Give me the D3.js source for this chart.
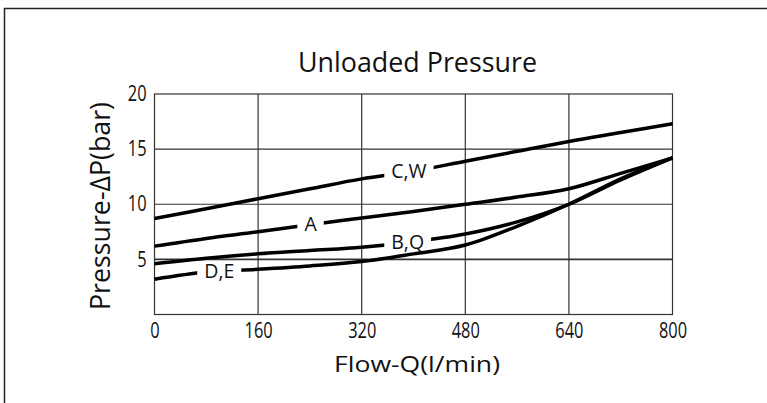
<html>
<head>
<meta charset="utf-8">
<title>Unloaded Pressure</title>
<script src="https://cdn.jsdelivr.net/npm/d3@7/dist/d3.min.js"></script>
<style>
  body { margin: 0; background: #fff; }
  svg text { font-family: "Open Sans", "DejaVu Sans", sans-serif; font-weight: 400; fill: #111; }
</style>
</head>
<body>
<svg width="767" height="403"></svg>
<script>
var flow = [0, 80, 160, 240, 320, 400, 480, 560, 640, 720, 800];

// pressure drop (bar) per curve
var pressureCW = [8.7, 9.6, 10.5, 11.4, 12.3, 13.0, 13.9, 14.8, 15.7, 16.5, 17.3];
var pressureA  = [6.2, 6.9, 7.5, 8.15, 8.75, 9.35, 10.0, 10.65, 11.4, 12.8, 14.2];
var pressureBQ = [4.6, 5.1, 5.5, 5.8, 6.1, 6.6, 7.3, 8.4, 10.0, 12.2, 14.2];
var pressureDE = [3.2, 3.85, 4.1, 4.4, 4.8, 5.5, 6.3, 8.0, 10.0, 12.3, 14.2];

var curveNames = ['C,W', 'A', 'B,Q', 'D,E'];
var labelFlow = [393, 241, 391, 100];

var xTicks = [0, 160, 320, 480, 640, 800];
var yTicks = [5, 10, 15, 20];

var curves = [pressureCW, pressureA, pressureBQ, pressureDE].map(function(p, i) {
    return {
        name: curveNames[i],
        at: labelFlow[i],
        points: flow.map(function(f, j) { return [f, p[j]]; })
    };
});

var svg = d3.select('svg');

// outer frame (only top and left edges fall inside the picture)
svg.append('rect')
    .attr('x', 4.5).attr('y', 8.5)
    .attr('width', 900).attr('height', 600)
    .attr('fill', 'none').attr('stroke', '#222').attr('stroke-width', 1.5);

var x = d3.scaleLinear().domain([0, 800]).range([154.5, 672.5]);
var y = d3.scaleLinear().domain([0, 20]).range([314.5, 94]);

// grid
var grid = svg.append('g').attr('stroke', '#333').attr('stroke-width', 1.2);
grid.selectAll('.vx').data(xTicks.slice(1, -1)).enter().append('line')
    .attr('x1', x).attr('x2', x).attr('y1', y(0)).attr('y2', y(20));
grid.selectAll('.hy').data(yTicks.slice(0, -1)).enter().append('line')
    .attr('y1', y).attr('y2', y).attr('x1', x(0)).attr('x2', x(800))
    .attr('stroke-width', function(d) { return d == 5 ? 1.8 : 1.2; });
grid.append('rect')
    .attr('x', x(0)).attr('y', y(20))
    .attr('width', x(800) - x(0)).attr('height', y(0) - y(20))
    .attr('fill', 'none');

// axes (labels only)
var xAxis = svg.append('g')
    .attr('transform', 'translate(0,' + y(0) + ')')
    .call(d3.axisBottom(x).tickValues(xTicks).tickSize(0).tickPadding(9));
var yAxis = svg.append('g')
    .attr('transform', 'translate(' + x(0) + ',0)')
    .call(d3.axisLeft(y).tickValues(yTicks).tickSize(0).tickPadding(8));
[xAxis, yAxis].forEach(function(a) {
    a.select('.domain').remove();
    a.attr('font-family', null).attr('font-size', 21);
    a.selectAll('text').attr('fill', '#111').each(function() {
        var w = this.getComputedTextLength();
        d3.select(this).attr('textLength', w * 0.78).attr('lengthAdjust', 'spacingAndGlyphs');
    });
});

var line = d3.line()
    .x(function(d) { return x(d[0]); })
    .y(function(d) { return y(d[1]); })
    .curve(d3.curveCatmullRom.alpha(0.5));

function valueAt(pts, f) {
    var i = d3.bisector(function(d) { return d[0]; }).right(pts, f) - 1;
    i = Math.max(0, Math.min(i, pts.length - 2));
    var t = (f - pts[i][0]) / (pts[i + 1][0] - pts[i][0]);
    return pts[i][1] + t * (pts[i + 1][1] - pts[i][1]);
}

var defs = svg.append('defs');
var curveLayer = svg.append('g');
var labelLayer = svg.append('g');

curves.forEach(function(c, i) {
    var lx = x(c.at), ly = y(valueAt(c.points, c.at));

    var label = labelLayer.append('text')
        .attr('x', lx).attr('y', ly)
        .attr('dy', '0.34em')
        .attr('text-anchor', 'middle')
        .attr('font-size', 19.5)
        .text(c.name);
    var w = label.node().getComputedTextLength() + 14;

    var mask = defs.append('mask').attr('id', 'gap' + i)
        .attr('maskUnits', 'userSpaceOnUse')
        .attr('x', 0).attr('y', 0).attr('width', 767).attr('height', 403);
    mask.append('rect').attr('width', 767).attr('height', 403).attr('fill', '#fff');
    mask.append('rect')
        .attr('x', lx - w / 2).attr('y', ly - 14)
        .attr('width', w).attr('height', 28)
        .attr('fill', '#000');

    curveLayer.append('path')
        .attr('d', line(c.points))
        .attr('fill', 'none')
        .attr('stroke', '#000')
        .attr('stroke-width', 3.5)
        .attr('mask', 'url(#gap' + i + ')');
});

// titles
svg.append('text')
    .attr('x', 417.5).attr('y', 72.3)
    .attr('text-anchor', 'middle')
    .attr('font-size', 26.5)
    .attr('textLength', 239).attr('lengthAdjust', 'spacingAndGlyphs')
    .text('Unloaded Pressure');

svg.append('text')
    .attr('x', 417).attr('y', 371.7)
    .attr('text-anchor', 'middle')
    .attr('font-size', 21.5)
    .attr('textLength', 166).attr('lengthAdjust', 'spacingAndGlyphs')
    .text('Flow-Q(l/min)');

svg.append('text')
    .attr('transform', 'translate(110,206) rotate(-90)')
    .attr('text-anchor', 'middle')
    .attr('font-size', 27.5)
    .attr('textLength', 208).attr('lengthAdjust', 'spacingAndGlyphs')
    .text('Pressure-\u0394P(bar)');
</script>
</body>
</html>
